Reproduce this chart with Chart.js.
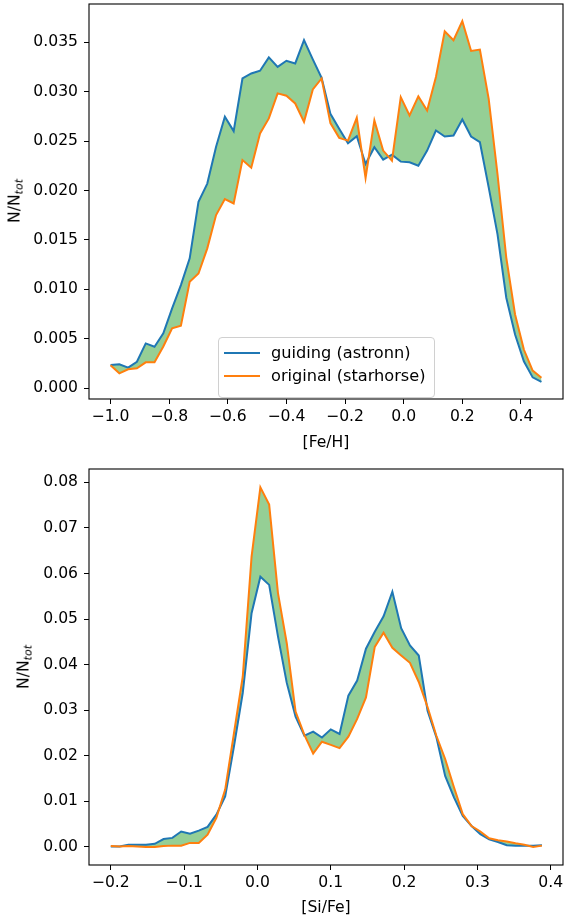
<!DOCTYPE html>
<html><head><meta charset="utf-8">
<script src="https://cdn.jsdelivr.net/npm/chart.js@4.4.0/dist/chart.umd.min.js"></script>
<style>
html,body{margin:0;padding:0;background:#fff;}
body{width:565px;height:918px;position:relative;overflow:hidden;font-family:"DejaVu Sans",sans-serif;color:#000;}
canvas{position:absolute;left:0;}
.ylab{position:absolute;font-size:15.6px;white-space:nowrap;line-height:1;transform:translate(-50%,-50%) rotate(-90deg);}
.ylab sub{font-size:11px;font-style:italic;vertical-align:-3px;}
.legend{position:absolute;box-sizing:border-box;border:1px solid #d0d0d0;border-radius:4px;background:rgba(255,255,255,0.8);font-size:16.2px;}
.legend .row{position:absolute;left:0;height:20px;line-height:20px;white-space:nowrap;}
.legend .hd{position:absolute;left:5px;top:9px;width:36px;height:2px;}
.legend .tx{position:absolute;left:52px;top:0;}
</style>
</head><body>
<canvas id="c1" width="565" height="460" style="top:0"></canvas>
<canvas id="c2" width="565" height="458" style="top:460px"></canvas>
<div class="ylab" style="left:16px;top:201px">N/N<sub>tot</sub></div>
<div class="ylab" style="left:25px;top:667px">N/N<sub>tot</sub></div>
<div id="leg" class="legend" style="left:218px;top:337px;width:217px;height:61px"></div>
<script>
// ---------- data ----------
const feH = [-1.00,-0.97,-0.94,-0.91,-0.88,-0.85,-0.82,-0.79,-0.76,-0.73,-0.70,-0.67,-0.64,-0.61,-0.58,-0.55,-0.52,-0.49,-0.46,-0.43,-0.40,-0.37,-0.34,-0.31,-0.28,-0.25,-0.22,-0.19,-0.16,-0.13,-0.10,-0.07,-0.04,-0.01,0.02,0.05,0.08,0.11,0.14,0.17,0.20,0.23,0.26,0.29,0.32,0.35,0.38,0.41,0.44,0.47];
const guideFe = [0.00233,0.0024,0.00206,0.00266,0.00452,0.00418,0.00553,0.00806,0.01042,0.01313,0.01886,0.0207,0.02443,0.02746,0.02601,0.03134,0.03185,0.03212,0.03347,0.03252,0.03313,0.03286,0.03522,0.03327,0.0314,0.02776,0.02624,0.02478,0.0255,0.02268,0.02438,0.02313,0.02363,0.02292,0.02285,0.02251,0.02404,0.02607,0.02546,0.02556,0.02719,0.02546,0.02489,0.02031,0.01558,0.00914,0.00542,0.00271,0.00108,0.00062];
const origFe = [0.0023,0.00149,0.0019,0.002,0.0026,0.0026,0.0042,0.00604,0.0063,0.01076,0.0116,0.01414,0.01751,0.01913,0.01869,0.02308,0.0223,0.02578,0.0273,0.02983,0.02959,0.02881,0.02695,0.03023,0.03134,0.02682,0.02533,0.02505,0.02736,0.02127,0.02709,0.02404,0.02302,0.02945,0.02759,0.02952,0.0281,0.03149,0.03612,0.03521,0.03714,0.03413,0.03426,0.02928,0.02167,0.01321,0.00745,0.0039,0.00176,0.00105];
const siFe = [-0.200,-0.188,-0.176,-0.164,-0.152,-0.140,-0.128,-0.116,-0.104,-0.092,-0.080,-0.068,-0.056,-0.044,-0.032,-0.020,-0.008,0.004,0.016,0.028,0.040,0.052,0.064,0.076,0.088,0.100,0.112,0.124,0.136,0.148,0.160,0.172,0.184,0.196,0.208,0.220,0.232,0.244,0.256,0.268,0.280,0.292,0.304,0.316,0.328,0.340,0.352,0.364,0.376,0.388];
const guideSi = [0.0001,0.0001,0.0005,0.0005,0.0005,0.0007,0.00175,0.002,0.0034,0.0029,0.0036,0.0044,0.0071,0.0111,0.0221,0.0338,0.0513,0.0593,0.0575,0.0462,0.036,0.0286,0.0244,0.0253,0.024,0.0258,0.0248,0.0332,0.0365,0.0435,0.0472,0.0506,0.056,0.048,0.0442,0.042,0.0299,0.0241,0.0156,0.0109,0.0068,0.0046,0.0028,0.0017,0.0011,0.0004,0.0003,0.0003,0.0003,0.0004];
const origSi = [0.0002,0.0001,0.0002,0.0001,0.0,0.0,0.0002,0.0003,0.0003,0.0009,0.0009,0.0027,0.0064,0.0126,0.025,0.0374,0.0637,0.0789,0.0751,0.0557,0.0447,0.0297,0.0246,0.0205,0.0231,0.0224,0.0217,0.0242,0.0281,0.0328,0.0439,0.047,0.0437,0.042,0.0404,0.0362,0.0307,0.0244,0.0193,0.0131,0.0072,0.0046,0.0034,0.0019,0.0015,0.0012,0.0008,0.0005,0.0,0.0003];
const seriesNames = ['guiding (astronn)', 'original (starhorse)'];
const feTicksX = [-1.0,-0.8,-0.6,-0.4,-0.2,0.0,0.2,0.4];
const feTicksY = [0.000,0.005,0.010,0.015,0.020,0.025,0.030,0.035];
const siTicksX = [-0.2,-0.1,0.0,0.1,0.2,0.3,0.4];
const siTicksY = [0.00,0.01,0.02,0.03,0.04,0.05,0.06,0.07,0.08];
const xTitles = ['[Fe/H]', '[Si/Fe]'];

// ---------- styling ----------
const colors = ['#1f77b4', '#ff7f0e'];
const fillColor = 'rgba(44,160,44,0.5)';
const FONT = {family: 'DejaVu Sans', size: 15.6};

function fmt(v, d) { return (v < 0 ? '\u2212' : '') + Math.abs(v).toFixed(d); }

const framePlugin = {
  id: 'frame',
  afterDraw(c) {
    const {ctx, chartArea: a} = c;
    ctx.save();
    ctx.strokeStyle = '#000';
    ctx.lineWidth = 1.1;
    ctx.strokeRect(a.left, a.top, a.right - a.left, a.bottom - a.top);
    ctx.restore();
  }
};

function zeroPad(s) { s.paddingTop = 0; s.paddingBottom = 0; s.paddingLeft = 0; s.paddingRight = 0; }

function makeChart(id, xs, a, b, o) {
  return new Chart(document.getElementById(id), {
    type: 'line',
    data: {
      datasets: [
        {label: seriesNames[0], data: xs.map((x, i) => ({x, y: a[i]})), borderColor: colors[0], borderWidth: 2, pointRadius: 0, fill: false, order: 1, tension: 0},
        {label: seriesNames[1], data: xs.map((x, i) => ({x, y: b[i]})), borderColor: colors[1], borderWidth: 2, pointRadius: 0, fill: '-1', backgroundColor: fillColor, order: 0, tension: 0}
      ]
    },
    options: {
      responsive: false,
      animation: false,
      devicePixelRatio: 1,
      layout: {padding: {left: 0, right: 2, top: o.padTop, bottom: 0}},
      plugins: {legend: {display: false}, tooltip: {enabled: false}, filler: {drawTime: 'beforeDatasetsDraw'}},
      scales: {
        x: {
          type: 'linear', min: o.xMin, max: o.xMax,
          border: {display: false},
          grid: {drawOnChartArea: false, drawTicks: true, tickLength: 5, color: '#000', lineWidth: 1},
          ticks: {autoSkip: false, maxRotation: 0, color: '#000', font: FONT, padding: 4, callback: v => fmt(v, o.xDec)},
          afterBuildTicks: s => { s.ticks = o.xTicks.map(v => ({value: v})); },
          afterFit: s => { s.height = o.xAxisH; zeroPad(s); },
          title: {display: true, text: o.xTitle, color: '#000', font: FONT, padding: {top: 0, bottom: o.titlePad}}
        },
        y: {
          type: 'linear', min: o.yMin, max: o.yMax,
          border: {display: false},
          grid: {drawOnChartArea: false, drawTicks: true, tickLength: 5, color: '#000', lineWidth: 1},
          ticks: {autoSkip: false, color: '#000', font: FONT, padding: 6, callback: v => fmt(v, o.yDec)},
          afterBuildTicks: s => { s.ticks = o.yTicks.map(v => ({value: v})); },
          afterFit: s => { s.width = 89; zeroPad(s); }
        }
      }
    },
    plugins: [framePlugin]
  });
}

const c1 = makeChart('c1', feH, guideFe, origFe, {
  xMin: -1.0735, xMax: 0.5435, yMin: -0.00111, yMax: 0.03888,
  xTicks: feTicksX, yTicks: feTicksY, xDec: 1, yDec: 3, xTitle: xTitles[0],
  padTop: 4, xAxisH: 61, titlePad: 8
});
const c2 = makeChart('c2', siFe, guideSi, origSi, {
  xMin: -0.2297, xMax: 0.4167, yMin: -0.00395, yMax: 0.08292,
  xTicks: siTicksX, yTicks: siTicksY, xDec: 1, yDec: 2, xTitle: xTitles[1],
  padTop: 9, xAxisH: 53, titlePad: 1
});

// legend built from the first chart's datasets
const leg = document.getElementById('leg');
c1.data.datasets.forEach((ds, i) => {
  const row = document.createElement('div');
  row.className = 'row';
  row.style.top = (5 + i * 23) + 'px';
  const hd = document.createElement('div');
  hd.className = 'hd';
  hd.style.background = ds.borderColor;
  const tx = document.createElement('span');
  tx.className = 'tx';
  tx.textContent = ds.label;
  row.appendChild(hd); row.appendChild(tx);
  leg.appendChild(row);
});
</script>
</body></html>
